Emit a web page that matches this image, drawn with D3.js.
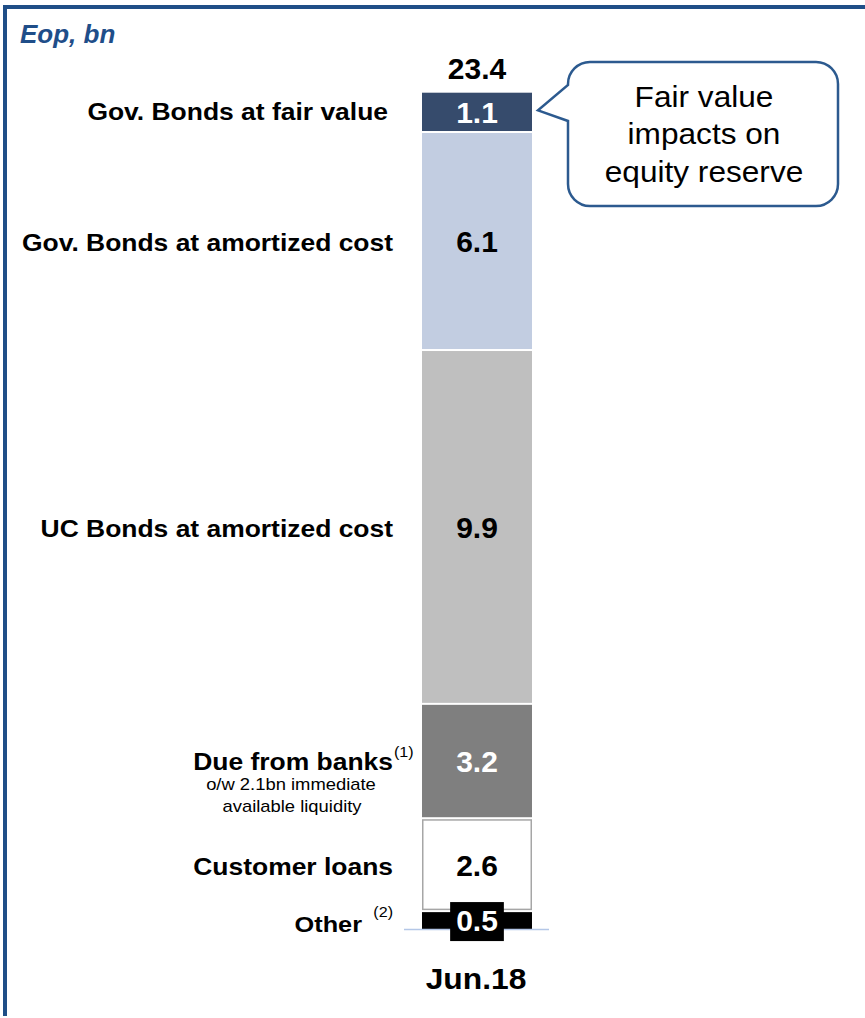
<!DOCTYPE html>
<html>
<head>
<meta charset="utf-8">
<script src="https://cdn.jsdelivr.net/npm/d3@7"></script>
<style>
  html, body { margin: 0; padding: 0; background: #fff; }
  svg { display: block; font-family: "Liberation Sans", Arial, sans-serif; }
</style>
</head>
<body>
<svg id="chart" width="865" height="1018"></svg>
<script>
// ---- data (bottom to top) ----
const period = ["Jun.18"];
const categories = ["Other", "Customer loans", "Due from banks", "UC Bonds at amortized cost", "Gov. Bonds at amortized cost", "Gov. Bonds at fair value"];
const values = [0.5, 2.6, 3.2, 9.9, 6.1, 1.1];
const valueLabels = ["0.5", "2.6", "3.2", "9.9", "6.1", "1.1"];
const totalLabel = "23.4";
const footnotes = ["(2)", null, "(1)", null, null, null];
const dueFromBanksNote = ["o/w 2.1bn immediate", "available liquidity"];
const calloutLines = ["Fair value", "impacts on", "equity reserve"];
const unitLabel = "Eop, bn";

// ---- styles ----
const fills = ["#000000", "#ffffff", "#7f7f7f", "#bfbfbf", "#c2cde1", "#364b6c"];
const valueColors = ["#ffffff", "#000000", "#ffffff", "#000000", "#000000", "#ffffff"];
const frameBlue = "#1f4e87";

const svg = d3.select("#chart");

// frame
svg.append("rect").attr("x", 3).attr("y", 5).attr("width", 862).attr("height", 4).attr("fill", frameBlue);
svg.append("rect").attr("x", 3).attr("y", 5).attr("width", 4).attr("height", 1011).attr("fill", frameBlue);

// unit label
svg.append("text").attr("x", 20).attr("y", 43)
  .attr("font-size", 26).attr("font-weight", "bold").attr("font-style", "italic")
  .attr("fill", "#1f4e89").text(unitLabel);

// scales
const total = d3.sum(values);
const y = d3.scaleLinear().domain([0, total]).range([929, 92.7]);
const x = d3.scaleBand().domain(period).range([422, 532]).padding(0);
const cx = x(period[0]) + x.bandwidth() / 2;

// stack
const stacked = [];
let acc = 0;
values.forEach((v, i) => { stacked.push({ i, v, y0: acc, y1: acc + v }); acc += v; });

// bars
svg.selectAll("rect.seg").data(stacked).enter().append("rect")
  .attr("class", "seg")
  .attr("x", d => x(period[0]) + (d.i === 1 ? 0.75 : 0))
  .attr("width", d => x.bandwidth() - (d.i === 1 ? 1.5 : 0))
  .attr("y", d => y(d.y1) + (d.i === values.length - 1 ? 0 : 1) + (d.i === 1 ? 0.75 : 0))
  .attr("height", d => y(d.y0) - y(d.y1) - (d.i === values.length - 1 ? 1 : 2) - (d.i === 0 ? -1 : 0) - (d.i === 1 ? 1.5 : 0))
  .attr("fill", d => fills[d.i])
  .attr("stroke", d => d.i === 1 ? "#a6a6a6" : "none")
  .attr("stroke-width", 1.5);

// baseline
svg.append("line").attr("x1", 404).attr("x2", 549).attr("y1", y(0) + 0.5).attr("y2", y(0) + 0.5)
  .attr("stroke", "#b4c7e7").attr("stroke-width", 1.5);

// value labels
stacked.forEach(d => {
  const mid = (y(d.y0) + y(d.y1)) / 2;
  const t = svg.append("text").attr("x", cx).attr("y", mid + 11)
    .attr("text-anchor", "middle").attr("font-size", 30).attr("font-weight", "bold")
    .attr("fill", valueColors[d.i]).text(valueLabels[d.i]);
  if (d.i === 0) {
    const bb = t.node().getBBox();
    svg.insert("rect", function () { return t.node(); })
      .attr("x", bb.x - 6).attr("y", mid - 18).attr("width", bb.width + 12).attr("height", 39)
      .attr("fill", "#000");
  }
});

// total label
svg.append("text").attr("x", cx).attr("y", y(total) - 14)
  .attr("text-anchor", "middle").attr("font-size", 30).attr("font-weight", "bold")
  .attr("fill", "#000").text(totalLabel);

// stretched text helper (reference text is slightly wider than the font)
function stretchedText(px, py, str, size, weight, anchor, s) {
  const g = svg.append("g").attr("transform", `translate(${px},${py}) scale(${s},1)`);
  g.append("text").attr("x", 0).attr("y", 0).attr("text-anchor", anchor)
    .attr("font-size", size).attr("font-weight", weight).attr("fill", "#000").text(str);
  return g;
}

// period label
stretchedText(cx - 1, 989, period[0], 30, "bold", "middle", 1.06);

// category labels
const sx = 1.15;
const labelRight = 393;
stacked.forEach(d => {
  const mid = (y(d.y0) + y(d.y1)) / 2;
  if (d.i === 0) {
    stretchedText(362, mid + 11.5, categories[d.i], 22, "bold", "end", sx);
    stretchedText(393, mid - 3, footnotes[d.i], 14, "normal", "end", sx);
  } else if (d.i === 2) {
    stretchedText(labelRight, mid + 9, categories[d.i], 23, "bold", "end", sx);
    stretchedText(labelRight + 1, mid - 4, footnotes[d.i], 14, "normal", "start", sx);
    stretchedText(291, mid + 29, dueFromBanksNote[0], 16, "normal", "middle", sx);
    stretchedText(292, mid + 50.5, dueFromBanksNote[1], 16, "normal", "middle", sx);
  } else if (d.i === 5) {
    stretchedText(388, mid + 8, categories[d.i], 23, "bold", "end", sx);
  } else {
    stretchedText(labelRight, mid + 10, categories[d.i], 23, "bold", "end", sx);
  }
});

// callout
const fv = stacked[values.length - 1];
const tipX = x(period[0]) + x.bandwidth() + 6;
const tipY = (y(fv.y0) + y(fv.y1)) / 2 - 2;
const bx0 = 568, bx1 = 838, by0 = 62, by1 = 206, r = 22;
const p = d3.path();
p.moveTo(bx0, 85);
p.lineTo(bx0, by0 + r);
p.arcTo(bx0, by0, bx0 + r, by0, r);
p.lineTo(bx1 - r, by0);
p.arcTo(bx1, by0, bx1, by0 + r, r);
p.lineTo(bx1, by1 - r);
p.arcTo(bx1, by1, bx1 - r, by1, r);
p.lineTo(bx0 + r, by1);
p.arcTo(bx0, by1, bx0, by1 - r, r);
p.lineTo(bx0, 121);
p.lineTo(tipX, tipY);
p.closePath();
svg.append("path").attr("d", p.toString()).attr("fill", "#fff")
  .attr("stroke", "#2c5a8f").attr("stroke-width", 2.5).attr("stroke-linejoin", "miter");
calloutLines.forEach((ln, i) => {
  stretchedText((bx0 + bx1) / 2 + 1, 106.5 + i * 37.5, ln, 29, "normal", "middle", 1.09);
});
</script>
</body>
</html>
